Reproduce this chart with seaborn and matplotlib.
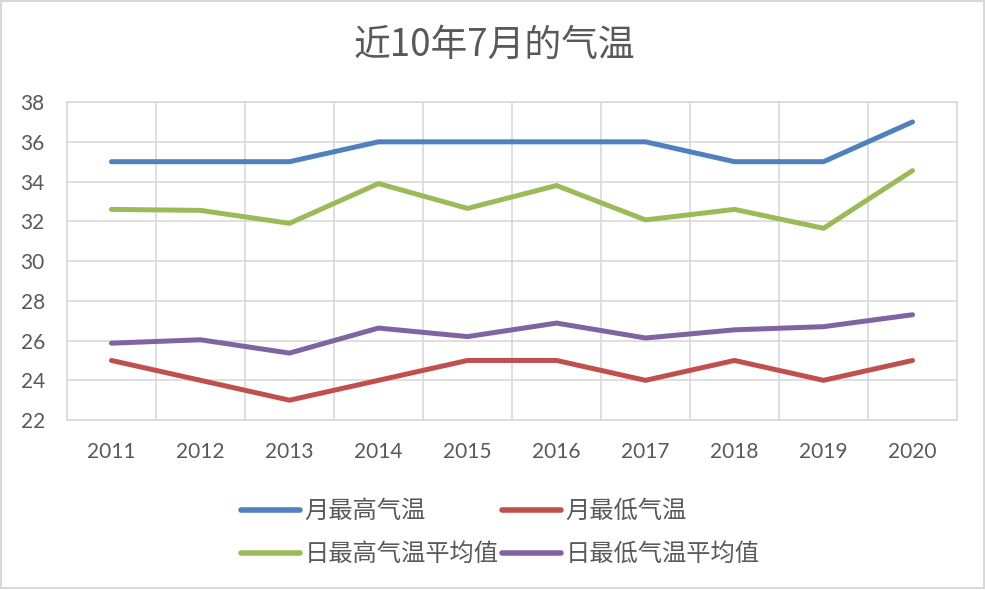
import pandas as pd
import matplotlib.pyplot as plt
import seaborn as sns
from matplotlib.patches import Rectangle

# data
years = [2011, 2012, 2013, 2014, 2015, 2016, 2017, 2018, 2019, 2020]
month_max = [35, 35, 35, 36, 36, 36, 36, 35, 35, 37]
month_min = [25, 24, 23, 24, 25, 25, 24, 25, 24, 25]
daily_max_avg = [32.6, 32.55, 31.9, 33.9, 32.65, 33.8, 32.07, 32.6, 31.65, 34.55]
daily_min_avg = [25.87, 26.04, 25.37, 26.63, 26.2, 26.88, 26.13, 26.54, 26.7, 27.3]

series_names = ["月最高气温", "月最低气温", "日最高气温平均值", "日最低气温平均值"]
series_colors = ["#4F81BD", "#C0504D", "#9BBB59", "#8064A2"]

df = pd.DataFrame({
    "year": years * 4,
    "temp": month_max + month_min + daily_max_avg + daily_min_avg,
    "series": [s for s in series_names for _ in years],
})

sns.set_theme(style="white")
plt.rcParams["font.family"] = ["Noto Sans CJK SC", "DejaVu Sans"]

fig = plt.figure(figsize=(9.85, 5.9), dpi=100)
ax = fig.add_axes([0.068, 0.288, 0.9036, 0.539])

sns.lineplot(
    data=df, x="year", y="temp", hue="series",
    hue_order=series_names, palette=series_colors,
    linewidth=3.6, ax=ax, legend=True,
)
for line in ax.lines:
    line.set_solid_capstyle("round")

ax.set_xlim(2010.5, 2020.5)
ax.set_ylim(22, 38)
ax.set_xticks(years)
ax.set_xticklabels([str(y) for y in years])
ax.set_xticks([y + 0.5 for y in [2010] + years], minor=True)
ax.set_yticks(range(22, 39, 2))
ax.grid(False)
ax.grid(True, which="minor", axis="x", color="#d9d9d9", linewidth=1.2)
ax.grid(True, which="major", axis="y", color="#d9d9d9", linewidth=1.2)
ax.tick_params(axis="both", which="both", length=0, colors="#595959", labelsize=15)
ax.tick_params(axis="y", pad=16)
ax.tick_params(axis="x", pad=16)
for lab in ax.get_xticklabels() + ax.get_yticklabels():
    lab.set_family(["Lato", "DejaVu Sans"])
for sp in ax.spines.values():
    sp.set_color("#d9d9d9")
    sp.set_linewidth(1.2)
ax.set_xlabel("")
ax.set_ylabel("")

# legend fills by column, so reorder to get row-wise layout like the reference
handles, labels = ax.get_legend_handles_labels()
ax.get_legend().remove()
order = [0, 2, 1, 3]
leg = fig.legend(
    [handles[i] for i in order], [labels[i] for i in order],
    ncol=2, loc="center", bbox_to_anchor=(0.508, 0.097),
    frameon=False, fontsize=17.5, handlelength=2.4, handletextpad=0.2,
    columnspacing=0.15, labelspacing=0.7,
)
for t in leg.get_texts():
    t.set_color("#595959")
for h in leg.get_lines():
    h.set_linewidth(4)

fig.text(0.5015, 0.924, "近10年7月的气温", ha="center", va="center",
         fontsize=26.5, color="#595959")

fig.patches.append(Rectangle((0.001, 0.003), 0.998, 0.995, transform=fig.transFigure,
                             fill=False, edgecolor="#d9d9d9", linewidth=1.5))

fig.savefig("out.png", dpi=100)
